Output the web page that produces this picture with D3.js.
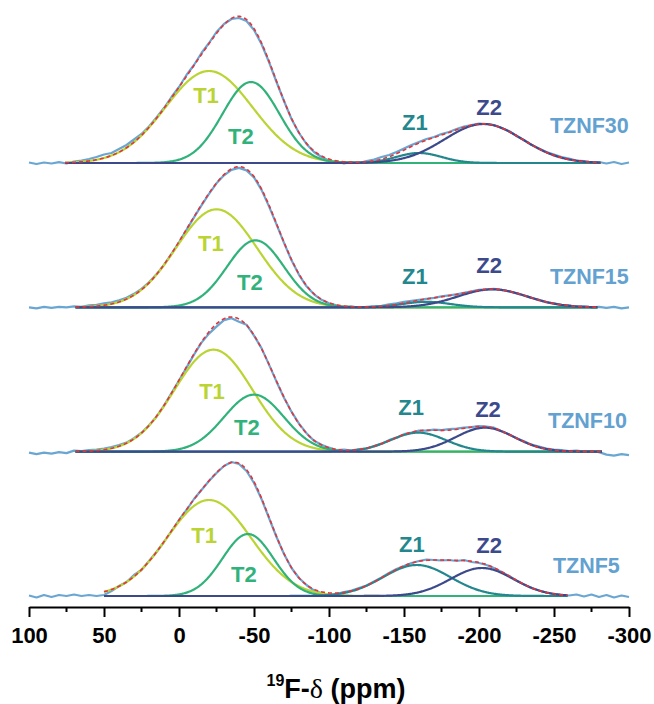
<!DOCTYPE html>
<html>
<head>
<meta charset="utf-8">
<script src="https://cdn.jsdelivr.net/npm/d3@7"></script>
<style>
  body { margin: 0; background: #fff; }
  svg { display: block; }
  text { font-family: "Liberation Sans", Arial, Helvetica, sans-serif; font-weight: bold; }
</style>
</head>
<body>
<svg id="chart" width="654" height="704"></svg>
<script>
// ---- data ---------------------------------------------------------------
const samples = ["TZNF30", "TZNF15", "TZNF10", "TZNF5"];
const peakNames = ["T1", "T2", "Z1", "Z2"];

// Deconvolution results, one row per sample, columns follow peakNames
const peakCenters = [          // chemical shift, ppm
  [-20, -48, -160, -203],
  [-25, -51, -165, -209],
  [-23, -50, -159.5, -204],
  [-20, -46, -158.5, -202]
];
const peakHeights = [          // intensity, a.u.
  [92, 81, 10, 39],
  [98, 67, 5.5, 18],
  [102, 57, 19, 24],
  [96, 62, 31, 28]
];
const peakSigmas = [           // Gaussian width, ppm
  [29, 19, 15, 26],
  [27, 19, 16, 23],
  [26, 20, 18.5, 19.5],
  [28, 17, 22.5, 21]
];
const fitRanges = [[76, -281], [69, -279], [69, -282], [50, -259]];

// Measured spectra, sampled every 5 ppm from 100 down to -300 ppm
const shiftStart = 100, shiftStep = -5;
const spectrumTZNF30 = [
  0.5, -1, 0.5, -0.5, 0.8, -0.5, 1.5, 2.5, 4, 6,
  8.5, 10, 14, 18, 23.5, 29, 36.5, 45.5, 55, 66,
  76, 88, 98, 110, 120, 131, 139, 144, 145, 142,
  133, 119, 101, 81, 62, 44, 30, 19, 11, 6,
  2.5, 1.5, -0.5, 1, 0, 2, 3.5, 6, 8, 11,
  14.5, 18, 21, 24, 26, 29, 31, 34, 36.5, 38,
  39.5, 39, 38, 35, 32, 27, 23, 18, 14.5, 11,
  8.5, 6, 4.5, 2.5, 2, 0.5, 1, -0.5, 1, -1,
  0.5
];
const spectrumTZNF15 = [
  0, -1, 0.5, -0.5, 0.5, 0, 1, 0.5, 2, 2.5,
  4, 5, 7, 9.5, 13.5, 18.5, 25, 33, 42.5, 53.5,
  65, 77.5, 90, 102, 113.5, 124, 132, 137.5, 139.5, 137,
  130, 117.5, 101, 83, 64.5, 47, 32.5, 21, 13, 7.5,
  4, 2, 0.5, 1, -0.5, 0.5, 1, 1.5, 3, 4,
  5.5, 6.5, 7.5, 8.5, 9.5, 11, 12, 13, 14.5, 16,
  17.5, 18, 18.5, 17.5, 16, 14, 12, 9.5, 7.5, 5,
  4, 2.5, 2, 0.5, 1, 0, 0.5, -0.5, 0.5, -1,
  0
];
const spectrumTZNF10 = [
  -1, -2.5, -1, -2, -0.5, -1.5, 1, 0.5, 1.5, 2,
  3, 4.5, 6.5, 9, 13.5, 19, 26.5, 35, 46, 58.5,
  71, 84, 97, 109, 118, 125, 131.5, 133.5, 130, 127,
  116, 103.5, 87, 70, 54, 40, 28, 18.5, 11, 7,
  4, 1.5, 2, 1, 2.5, 3, 5.5, 8, 11.5, 14,
  17.5, 19, 21, 21, 22, 21.5, 22.5, 23, 24, 24.5,
  25.5, 25, 24, 20.5, 17.5, 13.5, 10.5, 7, 5, 3,
  2, 1.5, 0.5, 1, 0, 0.5, -0.5, -3, -4, -2.5,
  -3.5
];
const spectrumTZNF5 = [
  0.5, -1.5, 1, -1, 1, 0, 1.5, 0, 1, 0,
  1, 5, 10, 14, 21, 26, 35, 44, 54, 65,
  76, 86, 97, 106, 115, 123, 130, 134, 132, 125,
  113, 97, 78, 59, 42, 28, 18, 11, 5.5, 3,
  1, 2, 4, 5.5, 8, 10.5, 14.5, 18.5, 23, 27,
  30, 33, 35, 36.5, 36, 35.5, 36, 35, 36, 34,
  33, 31, 28, 24, 20, 15.5, 11.5, 8, 5.5, 3.5,
  2, 1, 0.5, 1.5, -0.5, 1.5, -1, 1, -1.5, 0.5,
  -1
];
const spectra = [spectrumTZNF30, spectrumTZNF15, spectrumTZNF10, spectrumTZNF5];

const axisTicks = [100, 50, 0, -50, -100, -150, -200, -250, -300];
const minorTicks = [75, 25, -25, -75, -125, -175, -225, -275];

// ---- layout & style -----------------------------------------------------
// label anchors in data units: [ppm, intensity above the sample baseline]
const peakLabelSpots = [
  [[-18, 60], [-41.3, 19], [-157.3, 33], [-206.7, 48]],
  [[-21.3, 56], [-47.3, 17], [-157.3, 23], [-206.7, 34]],
  [[-22, 53], [-45.3, 17], [-154.7, 37], [-206, 35]],
  [[-16.7, 53], [-43.3, 14], [-155.3, 44], [-206.7, 43]]
];
const sampleLabelSpots = [[-247.3, 30], [-247.3, 23], [-246, 24], [-249.3, 23]];

const peakColors = ["#bad433", "#31b27a", "#23878d", "#3c4a8b"];
const spectrumColor = "#6aa6d2";
const labelBlue = "#62a1d0";
const envelopeColor = "#e0363c";

const svg = d3.select("#chart");
svg.append("rect").attr("width", 654).attr("height", 704).attr("fill", "#fff");

const x = d3.scaleLinear().domain([100, -300]).range([29, 629]);
const baseY = d3.scalePoint().domain(samples).range([163, 596]);
const hScale = d3.scaleLinear().domain([0, 150]).range([0, 150]);

const gauss = (p, c, a, s) => a * Math.exp(-((p - c) * (p - c)) / (2 * s * s));

samples.forEach((name, i) => {
  const b = baseY(name);
  const y = v => b - hScale(v);
  const g = svg.append("g").attr("class", "panel");

  // measured spectrum
  const pts = spectra[i].map((v, k) => [shiftStart + k * shiftStep, v]);
  g.append("path")
    .attr("d", d3.line().x(d => x(d[0])).y(d => y(d[1])).curve(d3.curveLinear)(pts))
    .attr("fill", "none").attr("stroke", spectrumColor).attr("stroke-width", 2.2)
    .attr("stroke-linejoin", "round");

  // fitted components over the fit window
  const [lo, hi] = fitRanges[i];
  const shifts = d3.range(lo, hi, -0.5).concat([hi]);
  const comp = peakNames.map((_, j) =>
    shifts.map(p => [p, gauss(p, peakCenters[i][j], peakHeights[i][j], peakSigmas[i][j])]));
  const line = d3.line().x(d => x(d[0])).y(d => y(d[1]));

  comp.forEach((c, j) => {
    g.append("path").attr("d", line(c))
      .attr("fill", "none").attr("stroke", peakColors[j]).attr("stroke-width", 2.2);
  });

  // cumulative fit envelope
  const env = shifts.map((p, k) => [p, d3.sum(comp, c => c[k][1])]);
  g.append("path").attr("d", line(env))
    .attr("fill", "none").attr("stroke", envelopeColor).attr("stroke-width", 1.6)
    .attr("stroke-dasharray", "4,3");

  // peak labels
  peakNames.forEach((pn, j) => {
    const [lp, lh] = peakLabelSpots[i][j];
    g.append("text").attr("x", x(lp)).attr("y", y(lh))
      .attr("text-anchor", "middle").attr("fill", peakColors[j])
      .style("font-size", "22px").text(pn);
  });

  // sample label
  const [sp, sh] = sampleLabelSpots[i];
  g.append("text").attr("x", x(sp)).attr("y", y(sh))
    .attr("fill", labelBlue).style("font-size", "21.5px").text(name);
});

// ---- x axis -------------------------------------------------------------
const axisG = svg.append("g").attr("transform", "translate(0,607)");
axisG.call(d3.axisBottom(x).tickValues(axisTicks).tickSize(10).tickSizeOuter(0)
  .tickFormat(d => String(d)));
axisG.select(".domain").attr("stroke", "#000").attr("stroke-width", 2);
axisG.selectAll(".tick line").attr("stroke", "#000").attr("stroke-width", 2);
axisG.selectAll(".tick text")
  .attr("y", 36).attr("dy", 0).attr("fill", "#000")
  .style("font-size", "22px").style("font-family", "'Liberation Sans', Arial, sans-serif")
  .style("font-weight", "bold");
axisG.selectAll(".minor").data(minorTicks).join("line").attr("class", "minor")
  .attr("x1", d => x(d)).attr("x2", d => x(d)).attr("y1", 0).attr("y2", 5)
  .attr("stroke", "#000").attr("stroke-width", 2);

// axis title: 19F-δ (ppm)
const title = svg.append("text").attr("x", 336).attr("y", 698)
  .attr("text-anchor", "middle").attr("fill", "#000").style("font-size", "27px");
title.append("tspan").attr("dy", -12).style("font-size", "16px").text("19");
title.append("tspan").attr("dy", 12).text("F-");
title.append("tspan").style("font-family", "'Liberation Serif', 'Times New Roman', serif")
  .style("font-weight", "normal").style("font-size", "28px").text("δ");
title.append("tspan").text(" (ppm)");
</script>
</body>
</html>
